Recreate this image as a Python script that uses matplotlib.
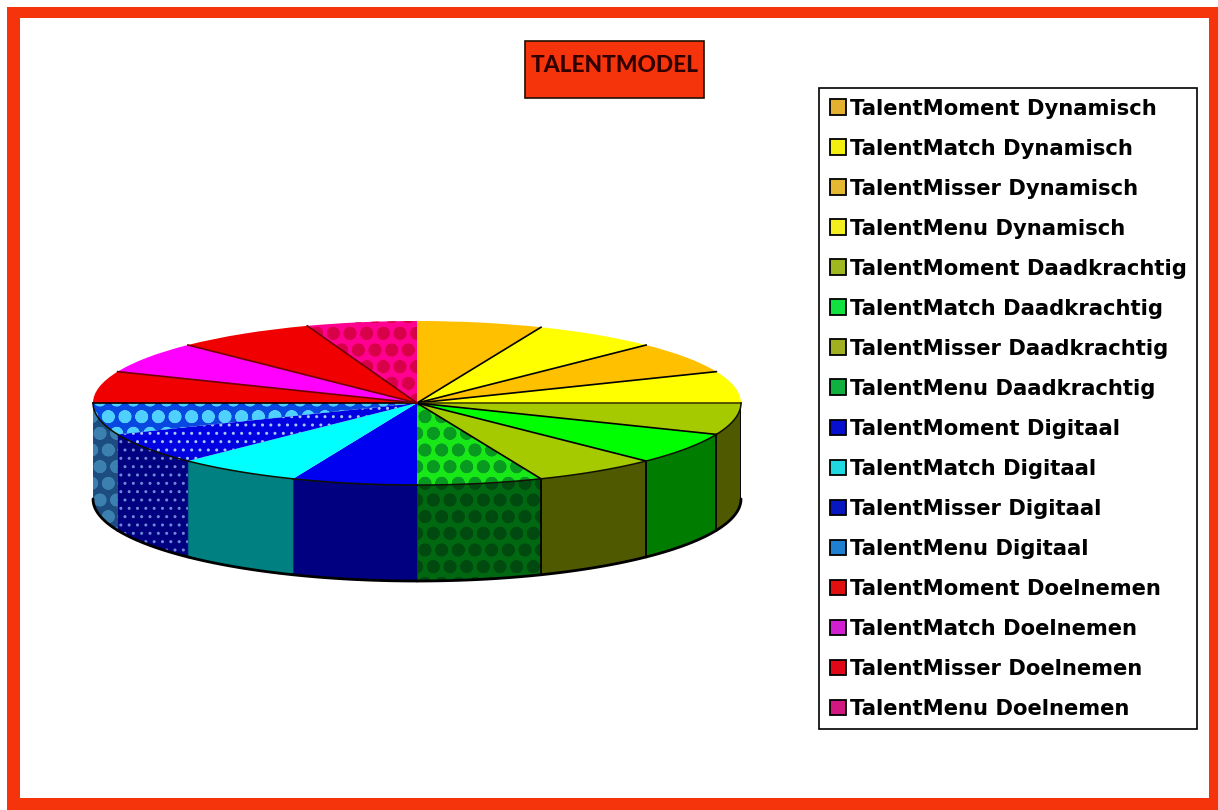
import matplotlib
matplotlib.use('Agg')
import matplotlib.pyplot as plt
from matplotlib.patches import Patch, Rectangle
import numpy as np

labels = ['TalentMoment Dynamisch', 'TalentMatch Dynamisch', 'TalentMisser Dynamisch', 'TalentMenu Dynamisch',
          'TalentMoment Daadkrachtig', 'TalentMatch Daadkrachtig', 'TalentMisser Daadkrachtig', 'TalentMenu Daadkrachtig',
          'TalentMoment Digitaal', 'TalentMatch Digitaal', 'TalentMisser Digitaal', 'TalentMenu Digitaal',
          'TalentMoment Doelnemen', 'TalentMatch Doelnemen', 'TalentMisser Doelnemen', 'TalentMenu Doelnemen']
values = [6.25, 6.25, 6.25, 6.25, 6.25, 6.25, 6.25, 6.25,
          6.25, 6.25, 6.25, 6.25, 6.25, 6.25, 7.0, 5.5]

top_colors = ['#ffc000', '#ffff00', '#ffc000', '#ffff00', '#a6ca00', '#00ff00', '#a6ca00', '#18e818',
              '#0000f0', '#00ffff', '#0000e0', '#0848e0', '#f00000', '#ff00ff', '#f00000', '#ff0090']
top_hatch_colors = [None, None, None, None, None, None, None, '#089a20',
                    None, None, '#a0c8ff', '#50d0ff', None, None, None, '#d80048']
top_hatches = [None, None, None, None, None, None, None, 'o',
               None, None, '..', 'o', None, None, None, 'o']
side_colors = ['#806000', '#808000', '#806000', '#808000', '#4f5a00', '#007c00', '#4f5a00', '#006810',
               '#000080', '#008080', '#000080', '#1c4c80', '#800000', '#800080', '#800000', '#800048']
side_hatch_colors = [None, None, None, None, None, None, None, '#004a10',
                     None, None, '#7088d8', '#3c80b0', None, None, None, None]
# colour of the line at the start of each slice, None where the reference shows no line
spoke_colors = [None, 'black', 'black', 'black', '#404000', 'black', 'black', 'black',
                None, None, None, None, 'black', '#700000', '#700000', '#700000']
legend_colors = ['#e4b030', '#f2ee10', '#e4b830', '#f2ee20', '#a0b820', '#10e040', '#a0b020', '#10b040',
                 '#0810d0', '#20d8e0', '#0818c0', '#2080d0', '#e01010', '#d020d0', '#e00818', '#d01880']

title_text = 'TALENTMODEL'
border_color = '#f5340c'
depth = 1.17

W, H = 1218, 810
fig = plt.figure(figsize=(W / 100, H / 100), dpi=100)


def px_rect(x0, y0, x1, y1, **kw):
    # rectangle given in pixels from the top-left corner
    r = Rectangle((x0 / W, 1 - y1 / H), (x1 - x0) / W, (y1 - y0) / H, transform=fig.transFigure, **kw)
    fig.add_artist(r)
    return r


px_rect(7, 7, 1218, 810, facecolor=border_color, edgecolor='none', zorder=-2)
px_rect(20, 18, 1209, 798, facecolor='white', edgecolor='none', zorder=-1)
px_rect(525, 41, 704, 98, facecolor=border_color, edgecolor='#201000', linewidth=1.2, zorder=1)

ax = fig.add_axes([93 / W, 1 - 581 / H, 648 / W, 260 / H])

starts = 90 - np.cumsum([0] + values[:-1]) / sum(values) * 360
ends = 90 - np.cumsum(values) / sum(values) * 360

# side wall, only the slices facing the front
for i in range(len(values)):
    if starts[i] > 0 or ends[i] < -180:
        continue
    t = np.radians(np.linspace(starts[i], ends[i], 30))
    xs = np.r_[np.cos(t), np.cos(t[::-1])]
    ys = np.r_[np.sin(t), np.sin(t[::-1]) - depth]
    ax.fill(xs, ys, facecolor=side_colors[i], edgecolor=side_colors[i], linewidth=0.5, zorder=1)
    if top_hatches[i]:
        p = ax.fill(xs, ys, facecolor='none', edgecolor=side_hatch_colors[i], hatch=top_hatches[i], linewidth=0, zorder=2)[0]
        p.set_hatch_linewidth(4.5 if top_hatches[i] == 'o' else 1)
    ax.plot(np.cos(t), np.sin(t) - depth, color='black', linewidth=2, zorder=3, solid_capstyle='round', clip_on=False)
    if spoke_colors[i]:
        ax.plot([np.cos(t[0])] * 2, [np.sin(t[0]), np.sin(t[0]) - depth], color='black', linewidth=1.3, zorder=3)

# top face, drawn as a pie and then squeezed by the non equal aspect
wedges, _ = ax.pie(values, colors=top_colors, startangle=90, counterclock=False,
                   wedgeprops={'linewidth': 0}, center=(0, 0), radius=1)
for w, hc, h in zip(wedges, top_hatch_colors, top_hatches):
    w.set_zorder(4)
    w.set_clip_on(False)
    if h:
        w.set_hatch(h)
        w.set_edgecolor(hc)
        w.set_hatch_linewidth(4.5 if h == 'o' else 1)

for i in range(len(values)):
    a = np.radians(starts[i])
    if spoke_colors[i]:
        ax.plot([0, np.cos(a)], [0, np.sin(a)], color=spoke_colors[i], linewidth=1.2, zorder=5, clip_on=False)
    if starts[i] <= 0 and ends[i] >= -180:
        t = np.radians(np.linspace(starts[i], ends[i], 30))
        ax.plot(np.cos(t), np.sin(t), color='#101000', linewidth=1.1, zorder=5, clip_on=False)

ax.set_aspect('auto')
ax.set_xlim(-1, 1)
ax.set_ylim(-1 - depth, 1)
ax.axis('off')

fig.text(614.5 / W, 1 - 65 / H, title_text, ha='center', va='center', fontsize=16.3, weight=900,
         family='Lato', color='#300000', zorder=3)

handles = [Patch(facecolor=c, edgecolor='black', linewidth=1.3) for c in legend_colors]
leg = fig.legend(handles, labels, loc='upper left', bbox_to_anchor=(819 / W, 1 - 88 / H), borderaxespad=0,
                 fancybox=False, framealpha=1, edgecolor='black', ncol=1,
                 prop={'family': 'DejaVu Sans', 'weight': 'bold', 'size': 15.25},
                 handlelength=0.76, handleheight=0.76, handletextpad=0.2, labelspacing=0.945,
                 borderpad=0.5)
leg.get_frame().set_linewidth(1.2)

fig.savefig('out.png', dpi=100)
